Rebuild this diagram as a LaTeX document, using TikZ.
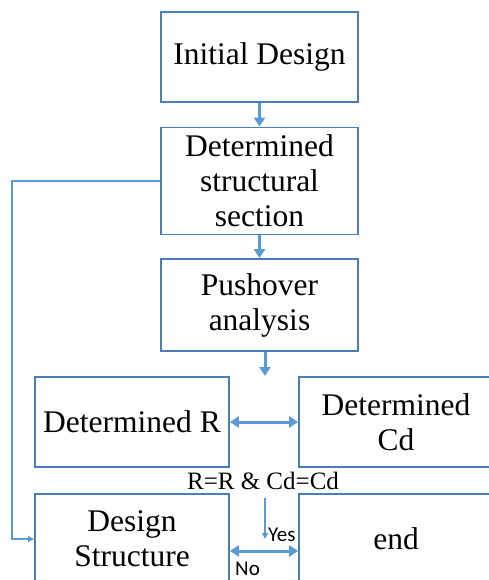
\documentclass[tikz,border=0pt]{standalone}
\usepackage{fontspec}
\setmainfont{Liberation Serif}
\newfontfamily\labfont{Carlito}
\usetikzlibrary{arrows.meta,calc}
\definecolor{boxblue}{HTML}{4A7EBB}
\definecolor{arrblue}{HTML}{5B9BD5}
\tikzset{
  stepbox/.style={draw=boxblue, line width=1.8pt, minimum width=194pt, minimum height=90pt,
    inner sep=0pt, align=center, font=\fontsize{31.5}{35}\selectfont},
  thickarr/.style={draw=arrblue, line width=3pt, -{Triangle[length=9pt,width=11pt]}},
  dblarr/.style={draw=arrblue, line width=3pt, {Triangle[length=9pt,width=11pt]}-{Triangle[length=9pt,width=11pt]}},
  thinarr/.style={draw=arrblue, line width=1.5pt, -{Triangle[length=6pt,width=6pt]}},
  lab/.style={font=\labfont\fontsize{21}{23}\selectfont, inner sep=0pt}
}
\begin{document}
\begin{tikzpicture}[x=1pt,y=-1pt]
\useasboundingbox (0,0) rectangle (489,580);
\clip (0,0) rectangle (489,580);
\node[stepbox, minimum width=197pt] (b1) at (259.5,57) {Initial Design};
\node[stepbox, minimum width=197pt, minimum height=107pt] (b2) at (259.5,181) {Determined\\structural\\section};
\node[stepbox, minimum width=197pt, minimum height=92pt] (b3) at (259.5,305) {Pushover\\analysis};
\node[stepbox] (b4) at (132,422) {Determined R};
\node[stepbox] (b5) at (396,422) {Determined\\Cd};
\node[stepbox] (b6) at (132,539) {Design\\Structure};
\node[stepbox] (b7) at (396,539) {end};
\node[font=\fontsize{25}{28}\selectfont, inner sep=0pt] (cond) at (263,481) {R=R \& Cd=Cd};
\coordinate (p) at (265,376);
\coordinate (ytop) at (265,498);
\coordinate (ybot) at (265,539);
\coordinate (fb) at (12,181);
\draw[thickarr] (b1.south) -- (b2.north);
\draw[thickarr] (b2.south) -- (b3.north);
\draw[thickarr] (b3.south -| p) -- (p);
\draw[dblarr] (b4.east) -- (b5.west);
\draw[draw=arrblue, line width=1.8pt, -{Triangle[length=6pt,width=6pt]}] (b2.west) -- (fb) |- (b6.west);
\draw[thinarr] (ytop) -- (ybot);
\draw[dblarr] ($(b6.east)+(0,12)$) -- ($(b7.west)+(0,12)$);
\node[lab, anchor=west] (yes) at (268,535) {Yes};
\node[lab, anchor=west] (no) at (235,569) {No};
\end{tikzpicture}
\end{document}
